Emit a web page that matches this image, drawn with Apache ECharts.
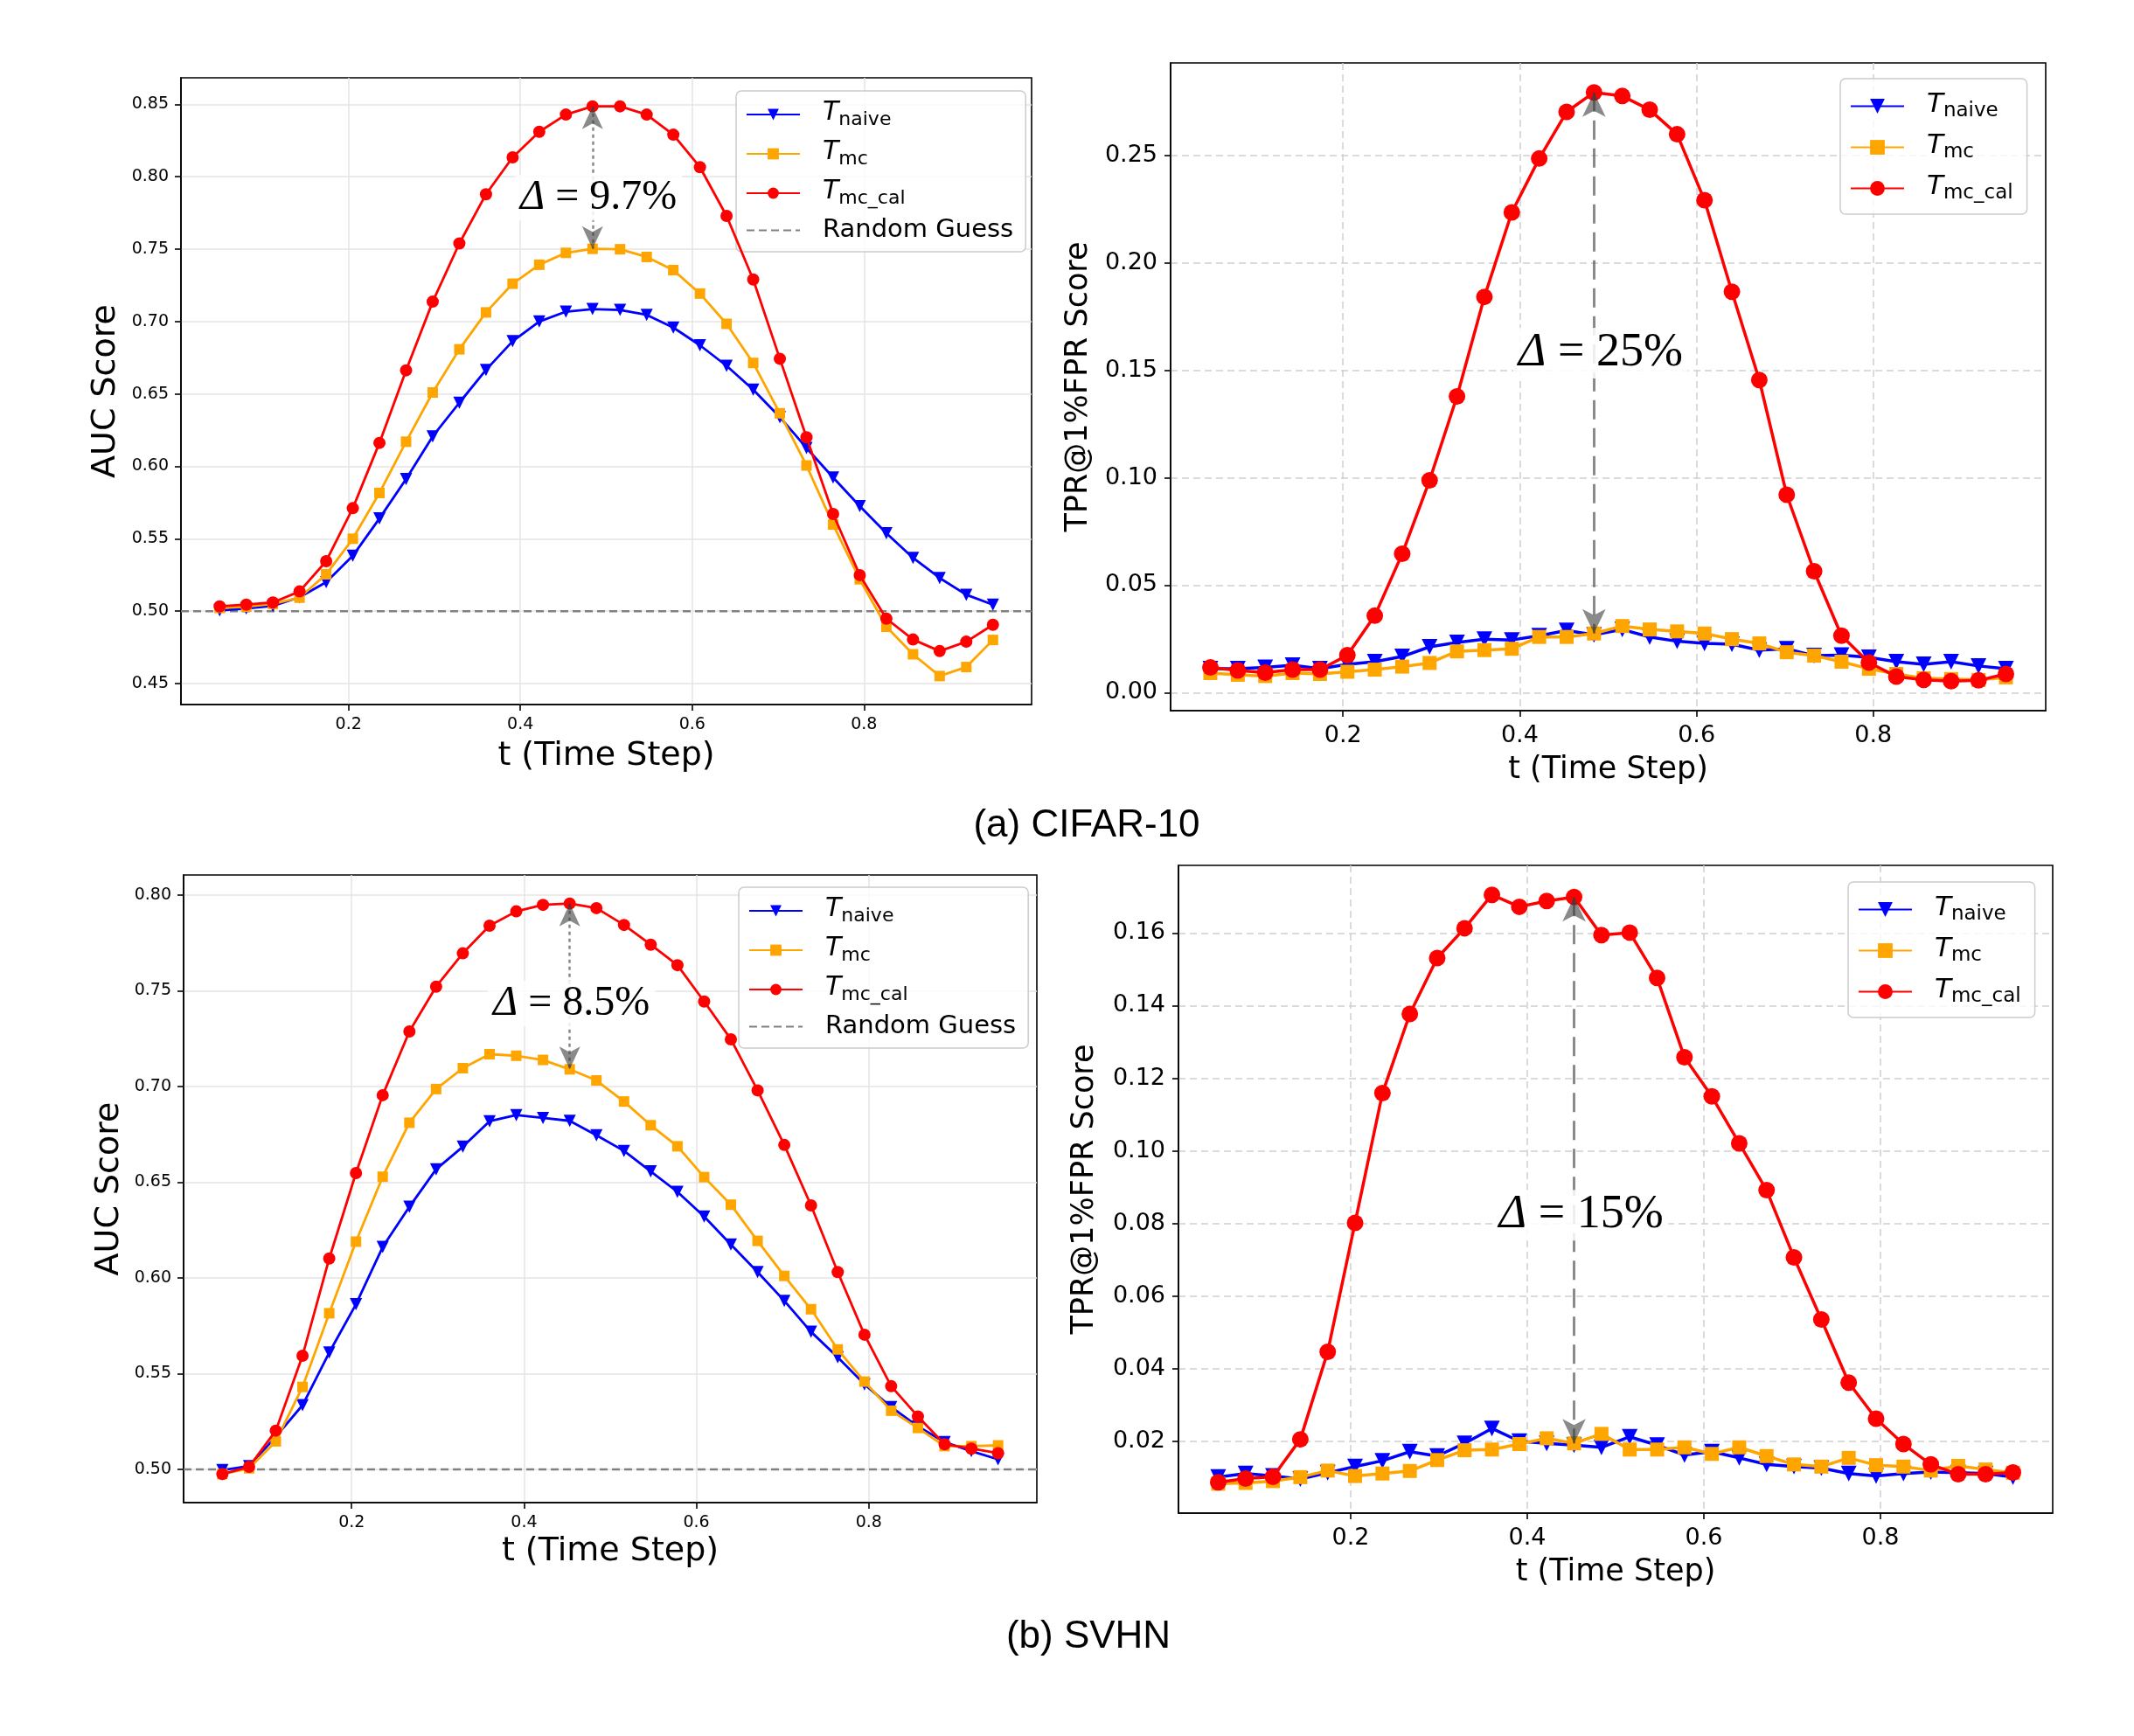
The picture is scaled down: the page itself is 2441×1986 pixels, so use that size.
<!DOCTYPE html>
<html>
<head>
<meta charset="utf-8">
<script src="https://cdn.jsdelivr.net/npm/echarts@6/dist/echarts.min.js"></script>
<style>
  html, body { margin: 0; background: #fff; }
  #chart { width: 2441px; height: 1986px; }
</style>
</head>
<body>
<div id="chart"></div>
<script>
// time steps shared by all four panels
const tSteps = [0.050, 0.081, 0.112, 0.143, 0.174, 0.205, 0.236, 0.267, 0.298, 0.329,
  0.360, 0.391, 0.422, 0.453, 0.484, 0.516, 0.547, 0.578, 0.609, 0.640,
  0.671, 0.702, 0.733, 0.764, 0.795, 0.826, 0.857, 0.888, 0.919, 0.950]

// (a) CIFAR-10, AUC
const cifarAucNaive = [0.5005, 0.5019, 0.5036, 0.5096, 0.5200, 0.5382, 0.5640, 0.5912, 0.6207, 0.6439,
  0.6666, 0.6864, 0.7000, 0.7068, 0.7086, 0.7080, 0.7046, 0.6958, 0.6836, 0.6694,
  0.6530, 0.6340, 0.6127, 0.5923, 0.5725, 0.5538, 0.5368, 0.5229, 0.5113, 0.5045]
const cifarAucMc = [0.5022, 0.5030, 0.5050, 0.5093, 0.5254, 0.5500, 0.5816, 0.6170, 0.6510, 0.6808,
  0.7063, 0.7261, 0.7392, 0.7474, 0.7502, 0.7499, 0.7446, 0.7355, 0.7193, 0.6984,
  0.6714, 0.6366, 0.6006, 0.5598, 0.5220, 0.4892, 0.4702, 0.4552, 0.4614, 0.4801]
const cifarAucMcCal = [0.5033, 0.5045, 0.5060, 0.5136, 0.5345, 0.5711, 0.6162, 0.6663, 0.7137, 0.7539,
  0.7879, 0.8134, 0.8310, 0.8429, 0.8486, 0.8486, 0.8429, 0.8290, 0.8066, 0.7729,
  0.7290, 0.6743, 0.6201, 0.5671, 0.5249, 0.4948, 0.4804, 0.4724, 0.4789, 0.4906]

// (a) CIFAR-10, TPR@1%FPR
const cifarTprNaive = [0.0111, 0.0111, 0.0117, 0.0128, 0.0111, 0.0132, 0.0144, 0.0168, 0.0213, 0.0233,
  0.0249, 0.0245, 0.0265, 0.0289, 0.0269, 0.0294, 0.0259, 0.0239, 0.0229, 0.0225,
  0.0198, 0.0204, 0.0172, 0.0174, 0.0164, 0.0144, 0.0132, 0.0144, 0.0124, 0.0111]
const cifarTprMc = [0.0091, 0.0083, 0.0077, 0.0091, 0.0087, 0.0097, 0.0107, 0.0121, 0.0138, 0.0192,
  0.0198, 0.0204, 0.0259, 0.0259, 0.0275, 0.0310, 0.0294, 0.0285, 0.0275, 0.0249,
  0.0229, 0.0188, 0.0172, 0.0144, 0.0111, 0.0087, 0.0067, 0.0063, 0.0059, 0.0071]
const cifarTprMcCal = [0.0117, 0.0103, 0.0093, 0.0107, 0.0107, 0.0174, 0.0358, 0.0646, 0.0988, 0.1379,
  0.1842, 0.2235, 0.2486, 0.2703, 0.2794, 0.2777, 0.2713, 0.2599, 0.2292, 0.1866,
  0.1455, 0.0921, 0.0565, 0.0265, 0.0140, 0.0075, 0.0059, 0.0053, 0.0057, 0.0087]

// (b) SVHN, AUC
const svhnAucNaive = [0.4996, 0.5017, 0.5170, 0.5335, 0.5610, 0.5862, 0.6161, 0.6371, 0.6567, 0.6685,
  0.6818, 0.6850, 0.6835, 0.6820, 0.6745, 0.6663, 0.6556, 0.6449, 0.6320, 0.6174,
  0.6030, 0.5880, 0.5718, 0.5585, 0.5444, 0.5325, 0.5224, 0.5142, 0.5095, 0.5052]
const svhnAucMc = [0.4975, 0.5005, 0.5146, 0.5430, 0.5815, 0.6189, 0.6528, 0.6810, 0.6986, 0.7095,
  0.7168, 0.7160, 0.7138, 0.7089, 0.7031, 0.6921, 0.6797, 0.6687, 0.6526, 0.6382,
  0.6193, 0.6010, 0.5836, 0.5626, 0.5458, 0.5306, 0.5216, 0.5121, 0.5121, 0.5125]
const svhnAucMcCal = [0.4975, 0.5013, 0.5202, 0.5593, 0.6101, 0.6547, 0.6954, 0.7287, 0.7521, 0.7695,
  0.7839, 0.7914, 0.7948, 0.7955, 0.7931, 0.7843, 0.7740, 0.7633, 0.7443, 0.7246,
  0.6979, 0.6694, 0.6378, 0.6030, 0.5703, 0.5434, 0.5276, 0.5131, 0.5108, 0.5084]

// (b) SVHN, TPR@1%FPR
const svhnTprNaive = [0.0102, 0.0112, 0.0105, 0.0097, 0.0114, 0.0131, 0.0147, 0.0172, 0.0160, 0.0195,
  0.0236, 0.0201, 0.0195, 0.0190, 0.0184, 0.0213, 0.0190, 0.0163, 0.0172, 0.0155,
  0.0137, 0.0131, 0.0127, 0.0112, 0.0105, 0.0112, 0.0116, 0.0114, 0.0112, 0.0102]
const svhnTprMc = [0.0084, 0.0086, 0.0091, 0.0102, 0.0120, 0.0105, 0.0112, 0.0119, 0.0149, 0.0176,
  0.0178, 0.0193, 0.0209, 0.0195, 0.0221, 0.0178, 0.0178, 0.0184, 0.0166, 0.0184,
  0.0160, 0.0137, 0.0131, 0.0155, 0.0135, 0.0131, 0.0120, 0.0133, 0.0123, 0.0114]
const svhnTprMcCal = [0.0088, 0.0098, 0.0103, 0.0206, 0.0447, 0.0802, 0.1159, 0.1377, 0.1531, 0.1613,
  0.1705, 0.1672, 0.1688, 0.1699, 0.1594, 0.1601, 0.1476, 0.1258, 0.1150, 0.1021,
  0.0892, 0.0707, 0.0536, 0.0362, 0.0263, 0.0193, 0.0137, 0.0110, 0.0110, 0.0115]

// tick labels
const xTicks = [0.2, 0.4, 0.6, 0.8]
const cifarAucTicks = [0.45, 0.50, 0.55, 0.60, 0.65, 0.70, 0.75, 0.80, 0.85]
const cifarTprTicks = [0.00, 0.05, 0.10, 0.15, 0.20, 0.25]
const svhnAucTicks = [0.50, 0.55, 0.60, 0.65, 0.70, 0.75, 0.80]
const svhnTprTicks = [0.02, 0.04, 0.06, 0.08, 0.10, 0.12, 0.14, 0.16]

const seriesNames = ['T_naive', 'T_mc', 'T_mc_cal']
const randomGuess = 0.5
// annotation: which time step the arrow sits on, its text and where the text goes
const deltaIndex = [14, 14, 13, 13]
const deltaText = ['9.7%', '25%', '8.5%', '15%']
const deltaLabelAt = [[0.491, 0.7855], [0.4915, 0.158], [0.455, 0.7433], [0.461, 0.0823]]
const captions = ['(a) CIFAR-10', '(b) SVHN']

const colors = { T_naive: '#0000ff', T_mc: '#ffa500', T_mc_cal: '#ff0000' }
const symbols = { T_naive: 'triangle', T_mc: 'rect', T_mc_cal: 'circle' }

// left panels (AUC) are drawn smaller, right panels (TPR) bigger
const looks = {
  small: {
    tickFont: 19, nameFont: 38, lineWidth: 2.8,
    symSize: { T_naive: 14, T_mc: 12, T_mc_cal: 14 },
    split: { color: '#e4e4e4', width: 1.5, type: 'solid' },
    arrowDash: [4, 4], arrowWidth: 2.5, deltaFont: 48, arrowHead: [18, 26],
    legendFont: 30, subFont: 22, itemHeight: 16, itemGap: 11, legendPad: [10, 14, 10, 11]
  },
  big: {
    tickFont: 27, nameFont: 35, lineWidth: 3.5,
    symSize: { T_naive: 18, T_mc: 16, T_mc_cal: 19 },
    split: { color: '#d0d0d0', width: 1.5, type: [8, 5] },
    arrowDash: [22, 10], arrowWidth: 3, deltaFont: 54, arrowHead: [20, 28],
    legendFont: 31, subFont: 23, itemHeight: 21, itemGap: 12, legendPad: [14, 16, 12, 11]
  }
}

const panels = [
  {
    key: 'ca', look: looks.small, values: [cifarAucNaive, cifarAucMc, cifarAucMcCal],
    grid: { left: 207, top: 89, width: 973, height: 717 }, yMin: 0.4355, yMax: 0.8683,
    yTicks: cifarAucTicks, yName: 'AUC Score', yNameGap: 67, xNameGap: 40,
    labelMargin: 14, guess: true, legend: { left: 842, top: 104 }
  },
  {
    key: 'ct', look: looks.big, values: [cifarTprNaive, cifarTprMc, cifarTprMcCal],
    grid: { left: 1339, top: 72, width: 1001, height: 741 }, yMin: -0.0084, yMax: 0.2931,
    yTicks: cifarTprTicks, yName: 'TPR@1%FPR Score', yNameGap: 88, xNameGap: 50,
    labelMargin: 15, guess: false, legend: { left: 2105, top: 90 }
  },
  {
    key: 'sa', look: looks.small, values: [svhnAucNaive, svhnAucMc, svhnAucMcCal],
    grid: { left: 210, top: 1001, width: 976, height: 718 }, yMin: 0.4826, yMax: 0.8104,
    yTicks: svhnAucTicks, yName: 'AUC Score', yNameGap: 66, xNameGap: 37,
    labelMargin: 14, guess: true, legend: { left: 845, top: 1015 }
  },
  {
    key: 'st', look: looks.big, values: [svhnTprNaive, svhnTprMc, svhnTprMcCal],
    grid: { left: 1348, top: 990, width: 1000, height: 741 }, yMin: 0.0003, yMax: 0.1786,
    yTicks: svhnTprTicks, yName: 'TPR@1%FPR Score', yNameGap: 90, xNameGap: 50,
    labelMargin: 15, guess: false, legend: { left: 2114, top: 1009 }
  }
]

const xMin = 0.005
const xMax = 0.995
const black = { color: '#000', width: 1.6 }

const grids = []
const xAxes = []
const yAxes = []
const series = []
const legends = []

panels.forEach((p, i) => {
  const lk = p.look
  grids.push(Object.assign({ show: true, borderColor: '#000', borderWidth: 1.6, backgroundColor: 'transparent' }, p.grid))

  const axisBase = {
    type: 'value',
    gridIndex: i,
    nameLocation: 'middle',
    nameTextStyle: { fontFamily: 'DejaVu Sans', fontSize: lk.nameFont, color: '#000' },
    axisLine: { show: true, onZero: false, lineStyle: black },
    splitLine: { show: true, lineStyle: lk.split }
  }
  xAxes.push(Object.assign({}, axisBase, {
    min: xMin,
    max: xMax,
    name: 't (Time Step)',
    nameGap: p.xNameGap,
    axisTick: { show: true, customValues: xTicks, length: 7, lineStyle: black },
    axisLabel: {
      customValues: xTicks, formatter: v => v.toFixed(1), margin: p.labelMargin,
      fontFamily: 'DejaVu Sans', fontSize: lk.tickFont, color: '#000'
    }
  }))
  yAxes.push(Object.assign({}, axisBase, {
    min: p.yMin,
    max: p.yMax,
    name: p.yName,
    nameGap: p.yNameGap,
    axisTick: { show: true, customValues: p.yTicks, length: 7, lineStyle: black },
    axisLabel: {
      customValues: p.yTicks, formatter: v => v.toFixed(2), margin: p.labelMargin,
      fontFamily: 'DejaVu Sans', fontSize: lk.tickFont, color: '#000'
    }
  }))

  const legendData = []
  if (p.guess) {
    series.push({
      name: p.key + '|Random Guess',
      type: 'line',
      xAxisIndex: i,
      yAxisIndex: i,
      data: [[xMin, randomGuess], [xMax, randomGuess]],
      symbol: 'none',
      lineStyle: { color: '#808080', width: 2.5, type: [9, 5] },
      itemStyle: { color: '#808080' },
      z: 1
    })
  }
  seriesNames.forEach((n, k) => {
    series.push({
      name: p.key + '|' + n,
      type: 'line',
      xAxisIndex: i,
      yAxisIndex: i,
      data: tSteps.map((t, j) => [t, p.values[k][j]]),
      symbol: symbols[n],
      symbolRotate: n === 'T_naive' ? 180 : 0,
      symbolSize: lk.symSize[n],
      lineStyle: { color: colors[n], width: lk.lineWidth },
      itemStyle: { color: colors[n] },
      z: 2 + k
    })
    legendData.push(p.key + '|' + n)
  })
  if (p.guess) legendData.push({ name: p.key + '|Random Guess', itemStyle: { opacity: 0 } })

  // double arrow between the T_mc_cal and T_mc values, plus the delta text
  const k = deltaIndex[i]
  series.push({
    type: 'line',
    xAxisIndex: i,
    yAxisIndex: i,
    data: [],
    z: 6,
    markLine: {
      silent: true,
      animation: false,
      symbol: ['arrow', 'arrow'],
      symbolSize: lk.arrowHead,
      lineStyle: { color: 'rgba(60,60,60,0.6)', width: lk.arrowWidth, type: lk.arrowDash },
      label: { show: false },
      data: [[{ coord: [tSteps[k], p.values[2][k]] }, { coord: [tSteps[k], p.values[1][k]] }]]
    }
  })
  series.push({
    type: 'line',
    xAxisIndex: i,
    yAxisIndex: i,
    data: [],
    z: 7,
    markPoint: {
      silent: true,
      animation: false,
      symbol: 'rect',
      symbolSize: 1,
      itemStyle: { color: 'rgba(0,0,0,0)' },
      label: {
        show: true,
        position: 'inside',
        formatter: '{d|Δ}{n| = ' + deltaText[i] + '}',
        backgroundColor: 'rgba(255,255,255,0.85)',
        padding: [2, 6],
        rich: {
          d: { fontFamily: 'Liberation Serif', fontStyle: 'italic', fontSize: lk.deltaFont, color: '#000' },
          n: { fontFamily: 'Liberation Serif', fontSize: lk.deltaFont, color: '#000' }
        }
      },
      data: [{ coord: deltaLabelAt[i] }]
    }
  })

  legends.push({
    data: legendData,
    orient: 'vertical',
    left: p.legend.left,
    top: p.legend.top,
    padding: lk.legendPad,
    itemGap: lk.itemGap,
    itemWidth: 61,
    itemHeight: lk.itemHeight,
    backgroundColor: 'rgba(255,255,255,0.8)',
    borderColor: '#cccccc',
    borderWidth: 1.5,
    borderRadius: 6,
    selectedMode: false,
    formatter: name => {
      const label = name.split('|')[1]
      if (label === 'Random Guess') return '{r|Random Guess}'
      return '{t|T}{s|' + label.slice(2) + '}'
    },
    textStyle: {
      color: '#000',
      rich: {
        t: { fontFamily: 'DejaVu Sans', fontStyle: 'italic', fontSize: lk.legendFont, padding: [0, 0, 4, 21], verticalAlign: 'bottom' },
        s: { fontFamily: 'DejaVu Sans', fontSize: lk.subFont, verticalAlign: 'bottom' },
        r: { fontFamily: 'DejaVu Sans', fontSize: 29, padding: [0, 0, 0, 21] }
      }
    }
  })
})

const chart = echarts.init(document.getElementById('chart'))
chart.setOption({
  animation: false,
  backgroundColor: '#fff',
  grid: grids,
  xAxis: xAxes,
  yAxis: yAxes,
  legend: legends,
  series,
  graphic: [
    { type: 'text', x: 1243, y: 945, style: { text: captions[0], font: '44px "Liberation Sans"', fill: '#000', align: 'center', verticalAlign: 'middle' } },
    { type: 'text', x: 1245, y: 1873, style: { text: captions[1], font: '44px "Liberation Sans"', fill: '#000', align: 'center', verticalAlign: 'middle' } }
  ]
})
</script>
</body>
</html>
